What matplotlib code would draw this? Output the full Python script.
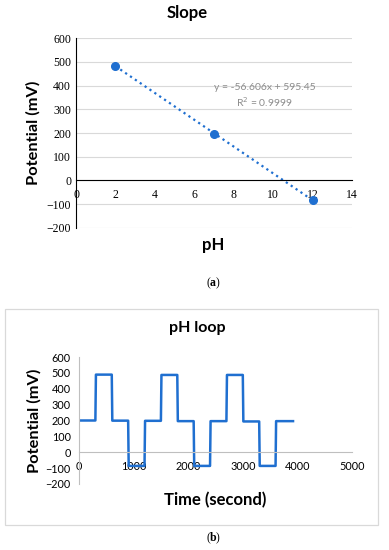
import matplotlib
matplotlib.use("Agg")
from matplotlib import pyplot as plt
from matplotlib.patches import Rectangle

# (a) calibration points
ph = [2, 7, 12]
potential_ph = [483, 197, -83]
slope, intercept = -56.606, 595.45
fit_x = [2, 12]
y_ticks_a = [-200, -100, 0, 100, 200, 300, 400, 500, 600]
x_ticks_a = [0, 2, 4, 6, 8, 10, 12, 14]

# (b) pH loop, step signal
time_s = [0, 300, 310, 600, 610, 900, 910, 1200, 1210, 1500, 1510, 1800, 1810,
          2100, 2110, 2400, 2410, 2700, 2710, 3000, 3010, 3300, 3310, 3600, 3610, 3920]
potential_t = [200, 200, 489, 489, 199, 199, -86, -86, 198, 198, 487, 487, 196,
               196, -86, -86, 196, 196, 487, 487, 194, 194, -86, -86, 196, 196]
x_ticks_b = [0, 1000, 2000, 3000, 4000, 5000]
y_ticks_b = [-200, -100, 0, 100, 200, 300, 400, 500, 600]

BLUE = '#1f6fd0'
SANS = 'Lato'
SERIF = 'Liberation Serif'

fig = plt.figure(figsize=(3.89, 5.5), dpi=100)


def panel_tag(letter, ypix):
    """ подпись вида (a) с жирной буквой """
    y = 1 - ypix / 550
    fig.text(208.5 / 389, y, '(', ha='center', va='center', fontsize=8.5, family=SERIF)
    fig.text(213 / 389, y, letter, ha='center', va='center', fontsize=8.5,
             family=SERIF, fontweight='bold')
    fig.text(217.5 / 389, y, ')', ha='center', va='center', fontsize=8.5, family=SERIF)


# ---------- (a) Slope ----------
ax = fig.add_axes([76 / 389, 322.3 / 550, 276 / 389, 189.4 / 550])
ax.set_xlim(0, 14)
ax.set_ylim(-200, 600)
ax.set_yticks(y_ticks_a)
ax.set_xticks(x_ticks_a)
ax.grid(axis='y', color='#d9d9d9', lw=0.8)
ax.set_axisbelow(True)
for s in ['top', 'right']:
    ax.spines[s].set_visible(False)
ax.spines['bottom'].set_position(('data', 0))
ax.spines['bottom'].set_color('black')
ax.spines['left'].set_color('black')
ax.tick_params(length=0, labelsize=8.5)
ax.tick_params(axis='x', pad=6)
for lab in ax.get_xticklabels() + ax.get_yticklabels():
    lab.set_fontfamily(SERIF)

ax.plot(fit_x, [slope * v + intercept for v in fit_x], ls=':', color=BLUE, lw=1.6)
ax.plot(ph, potential_ph, 'o', color=BLUE, ms=5.5, zorder=3)
ax.text(9.57, 356, 'y = -56.606x + 595.45\nR$^2$ = 0.9999', ha='center', va='center',
        color='#8c8c8c', fontsize=7.5, family=SANS, linespacing=1.3)

ax.set_ylabel('Potential (mV)', fontsize=11.8, fontweight='bold', family=SANS)
ax.yaxis.set_label_coords(-0.13, 0.5)
ax.set_xlabel('pH', fontsize=12, fontweight='bold', family=SANS)
ax.xaxis.set_label_coords(0.496, -0.05)
fig.text(187 / 389, 1 - 13 / 550, 'Slope', ha='center', va='center',
         fontsize=12, fontweight='bold', family=SANS)

panel_tag('a', 283)

# ---------- (b) pH loop ----------
fig.add_artist(Rectangle((5 / 389, 25 / 550), 373 / 389, 216 / 550,
                         transform=fig.transFigure, fill=False,
                         edgecolor='#d9d9d9', lw=0.9))

bx = fig.add_axes([79 / 389, 66 / 550, 273 / 389, 127 / 550])
bx.set_xlim(0, 5000)
bx.set_ylim(-200, 600)
bx.set_xticks(x_ticks_b)
bx.set_yticks(y_ticks_b)
for s in ['top', 'right']:
    bx.spines[s].set_visible(False)
bx.spines['bottom'].set_position(('data', 0))
bx.spines['bottom'].set_color('#bfbfbf')
bx.spines['left'].set_color('#bfbfbf')
bx.tick_params(length=0, labelsize=7.8)
bx.tick_params(axis='x', pad=6)
bx.tick_params(axis='y', pad=6)
for lab in bx.get_xticklabels() + bx.get_yticklabels():
    lab.set_fontfamily(SANS)

bx.plot(time_s, potential_t, color=BLUE, lw=1.8, solid_joinstyle='round')

bx.set_ylabel('Potential (mV)', fontsize=11.8, fontweight='bold', family=SANS)
bx.yaxis.set_label_coords(-0.136, 0.496)
bx.set_xlabel('Time (second)', fontsize=12, fontweight='bold', family=SANS)
bx.xaxis.set_label_coords(0.498, -0.06)
fig.text(197 / 389, 1 - 328 / 550, 'pH loop', ha='center', va='center',
         fontsize=11.5, fontweight='bold', family=SANS)

panel_tag('b', 538)

fig.savefig('out.png', dpi=100)
